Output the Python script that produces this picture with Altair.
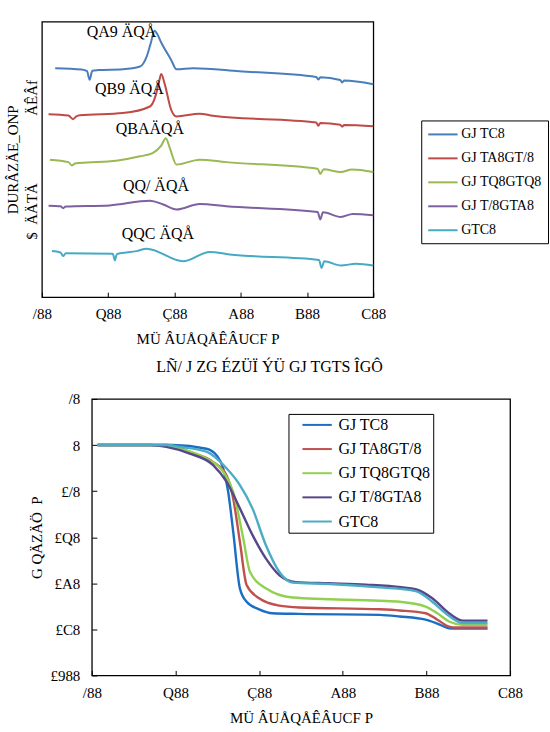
import altair as alt
import pandas as pd

FONT = "Liberation Serif"

# ---- shared temperature axis (deg C) ----
temp_ticks = [100, 200, 300, 400, 500, 600]
temp_tick_labels = ["/88", "Q88", "Ç88", "A88", "B88", "C88"]
temp_title = "MÜ ÂUÅQÅÊÂUCF P"

series = ["GJ TC8", "GJ TA8GT/8", "GJ TQ8GTQ8", "GJ T/8GTA8", "GTC8"]
dsc_colors = ["#4a7ebb", "#be4b48", "#98b954", "#7d60a0", "#46aac5"]
tga_colors = ["#1b6ec2", "#c0504d", "#92d050", "#57478a", "#4bacc6"]

# ---- DSC traces (stacked, arbitrary heat-flow units) ----
dsc_t_1 = [120, 160, 168, 172, 176, 185, 222, 248, 258, 264, 270, 274, 280, 295, 303, 328, 398, 514, 517, 520, 550, 553, 556, 600]
dsc_v_1 = [83.1, 82.6, 82.0, 78.9, 82.2, 82.4, 82.7, 83.7, 87.3, 92.0, 96.7, 95.5, 92.4, 86.1, 82.7, 83.1, 82.0, 79.9, 79.0, 79.8, 78.8, 77.9, 78.6, 77.3]
dsc_t_2 = [110, 140, 147, 152, 157, 222, 263, 272, 277, 280, 285, 295, 303, 338, 358, 514, 517, 520, 550, 553, 556, 600]
dsc_v_2 = [66.4, 65.9, 64.6, 65.6, 66.0, 66.8, 69.2, 73.5, 78.5, 81.0, 77.6, 68.0, 65.6, 66.6, 65.8, 63.4, 62.2, 63.2, 62.6, 61.9, 62.5, 62.0]
dsc_t_3 = [112, 140, 145, 150, 157, 212, 248, 267, 280, 287, 293, 303, 338, 378, 516, 520, 525, 551, 568, 600]
dsc_v_3 = [49.9, 49.0, 47.8, 48.5, 48.7, 49.5, 51.1, 52.3, 55.0, 57.7, 54.1, 48.1, 49.9, 49.0, 46.6, 44.7, 46.4, 45.4, 46.3, 45.4]
dsc_t_4 = [110, 128, 132, 136, 202, 263, 283, 303, 338, 378, 516, 520, 524, 551, 569, 600]
dsc_v_4 = [33.2, 33.0, 32.3, 32.9, 33.3, 35.0, 33.6, 31.8, 33.8, 33.0, 30.9, 28.2, 30.8, 29.1, 30.2, 29.7]
dsc_t_5 = [115, 128, 132, 136, 207, 210, 213, 243, 258, 313, 353, 383, 518, 522, 526, 551, 574, 600]
dsc_v_5 = [16.7, 16.2, 14.9, 15.9, 15.7, 13.3, 15.6, 16.7, 17.6, 13.0, 16.4, 15.5, 13.5, 10.6, 13.0, 11.5, 12.1, 11.5]

peak_labels = ["QA9 ÄQÅ", "QB9 ÄQÅ", "QBAÄQÅ", "QQ/ ÄQÅ", "QQC ÄQÅ"]
peak_label_t = [220, 232, 263, 272, 275]
peak_label_v = [96.4, 75.7, 60.9, 40.2, 22.8]

dsc_y_title = ["DURÂZÄE_ONP", "$\u00a0\u00a0ÄÄTÄ" + "\u00a0" * 18 + "ÄÊÂf"]
dsc_caption = "LÑ/ J ZG ÉZÜÏ ÝÜ GJ TGTS ÎGÔ"

# ---- TGA traces (mass change, %) ----
tga_ticks = [20, 0, -20, -40, -60, -80, -100]
tga_tick_labels = ["/8", "8", "£/8", "£Q8", "£A8", "£C8", "£988"]
tga_y_title = "G QÄZÄÖ\u00a0\u00a0P"

tga_t_1 = [107, 197, 237, 249, 257, 263, 269, 277, 285, 300, 316, 348, 444, 468, 499, 513, 527, 535, 573]
tga_v_1 = [0, 0, -1.6, -4.4, -10.1, -20.3, -37.6, -62.2, -68.0, -71.3, -73.0, -73.3, -73.7, -74.4, -75.8, -77.5, -79.5, -79.7, -79.7]
tga_t_2 = [107, 190, 217, 245, 261, 269, 277, 285, 300, 324, 348, 444, 468, 499, 513, 527, 535, 573]
tga_v_2 = [0, 0, -3.0, -7.4, -13.1, -23.2, -42.0, -60.7, -66.5, -69.7, -70.5, -71.3, -71.8, -73.0, -75.8, -78.8, -79.2, -79.2]
tga_t_3 = [107, 190, 205, 237, 257, 269, 281, 289, 308, 340, 444, 468, 499, 513, 527, 543, 573]
tga_v_3 = [0, 0, -1.5, -5.9, -11.6, -20.3, -40.5, -55.0, -62.2, -66.2, -67.6, -68.0, -70.1, -73.0, -76.6, -78.0, -78.0]
tga_t_4 = [107, 170, 189, 217, 245, 261, 277, 292, 308, 324, 344, 384, 428, 470, 487, 507, 527, 543, 573]
tga_v_4 = [0, 0, -0.8, -3.7, -8.7, -15.9, -27.5, -39.0, -49.2, -56.4, -59.5, -60.0, -60.6, -61.7, -62.6, -66.5, -73.0, -76.2, -76.2]
tga_t_5 = [107, 190, 205, 237, 261, 277, 292, 308, 324, 340, 384, 444, 487, 507, 523, 543, 573]
tga_v_5 = [0, 0, -0.8, -2.9, -10.1, -17.4, -27.5, -43.4, -55.0, -59.7, -60.3, -61.8, -63.4, -68.0, -73.0, -77.3, -77.3]


def long_frame(ts, vs):
    rows = []
    for name, t_list, v_list in zip(series, ts, vs):
        for t, v in zip(t_list, v_list):
            rows.append({"temp": t, "value": v, "sample": name})
    return pd.DataFrame(rows)


def label_expr(values, labels):
    vals = ",".join(str(v) for v in values)
    labs = ",".join("'" + s + "'" for s in labels)
    return f"[{labs}][indexof([{vals}], datum.value)]"


dsc_df = long_frame([dsc_t_1, dsc_t_2, dsc_t_3, dsc_t_4, dsc_t_5],
                    [dsc_v_1, dsc_v_2, dsc_v_3, dsc_v_4, dsc_v_5])
tga_df = long_frame([tga_t_1, tga_t_2, tga_t_3, tga_t_4, tga_t_5],
                    [tga_v_1, tga_v_2, tga_v_3, tga_v_4, tga_v_5])
peak_df = pd.DataFrame({"temp": peak_label_t, "value": peak_label_v, "label": peak_labels})


def temp_axis(pad):
    return alt.Axis(values=temp_ticks, labelExpr=label_expr(temp_ticks, temp_tick_labels),
                    domain=False, offset=-5, tickSize=5, tickColor="black", tickWidth=1,
                    grid=False, labelFont=FONT, labelFontSize=15, labelColor="black",
                    labelPadding=pad, labelFlush=False, title=temp_title, titleFont=FONT,
                    titleFontSize=15, titleFontWeight="normal", titleColor="black",
                    titlePadding=10)


def legend(x, y, pad, sym_off, lab_off, row_pad, size):
    return alt.Legend(orient="none", legendX=x, legendY=y, symbolType="M-2.1,0H2.1",
                      symbolSize=196, symbolStrokeWidth=2, symbolOffset=sym_off,
                      labelOffset=lab_off, labelFont=FONT, labelFontSize=size,
                      labelColor="black", strokeColor="black", padding=pad,
                      rowPadding=row_pad, fillColor="white")


# ---- DSC panel ----
dsc_x = alt.X("temp:Q", scale=alt.Scale(domain=[100, 600], nice=False), axis=temp_axis(9))
dsc_y = alt.Y("value:Q", scale=alt.Scale(domain=[0, 100], nice=False),
              axis=alt.Axis(labels=False, ticks=False, domain=False, grid=False,
                            title=dsc_y_title, titleFont=FONT, titleFontSize=15,
                            titleFontWeight="normal", titleColor="black",
                            titlePadding=2, titleLineHeight=19))

dsc_lines = alt.Chart(dsc_df).mark_line(strokeWidth=2, interpolate="monotone").encode(
    x=dsc_x, y=dsc_y,
    color=alt.Color("sample:N", scale=alt.Scale(domain=series, range=dsc_colors),
                    legend=legend(380, 99, 6, 7.7, 10.3, 9, 14), title=None),
    detail="sample:N",
)
dsc_text = alt.Chart(peak_df).mark_text(font=FONT, fontSize=16, color="black").encode(
    x=dsc_x, y=dsc_y, text="label:N")

dsc = alt.layer(dsc_lines, dsc_text).properties(
    width=332, height=276,
    title=alt.TitleParams(dsc_caption, orient="bottom", anchor="middle", dx=62,
                          font=FONT, fontSize=16, fontWeight="normal", color="black",
                          offset=13),
)

# ---- TGA panel ----
tga = alt.Chart(tga_df).mark_line(strokeWidth=2.4, interpolate="monotone").encode(
    x=alt.X("temp:Q", scale=alt.Scale(domain=[100, 600], nice=False), axis=temp_axis(10)),
    y=alt.Y("value:Q", scale=alt.Scale(domain=[-100, 20], nice=False),
            axis=alt.Axis(values=tga_ticks, labelExpr=label_expr(tga_ticks, tga_tick_labels),
                          domain=False, offset=-5, tickSize=5, tickColor="black",
                          grid=False, labelFont=FONT, labelFontSize=15, labelColor="black",
                          labelPadding=12, labelFlush=False, title=tga_y_title,
                          titleFont=FONT, titleFontSize=15, titleFontWeight="normal",
                          titleColor="black", titlePadding=5)),
    color=alt.Color("sample:N", scale=alt.Scale(domain=series, range=tga_colors),
                    legend=legend(197, 15, 3, 17.7, 13.3, 8.2, 16), title=None),
    detail="sample:N",
).properties(width=419, height=277)

spacer = alt.Chart(pd.DataFrame({"s": [0]})).mark_point(opacity=0).properties(
    width=50, height=20, view=alt.ViewBackground(stroke="transparent"))

chart = alt.vconcat(
    dsc,
    alt.hconcat(spacer, tga, spacing=0, bounds="flush").resolve_scale(color="independent"),
    spacing=15,
).resolve_scale(color="independent").configure_view(
    stroke="black", strokeWidth=1.3
).properties(
    padding={"left": 5, "top": 20, "right": 0, "bottom": 5}, background="white"
)

chart.save("out.html", embed_options={"renderer": "svg", "actions": False})
